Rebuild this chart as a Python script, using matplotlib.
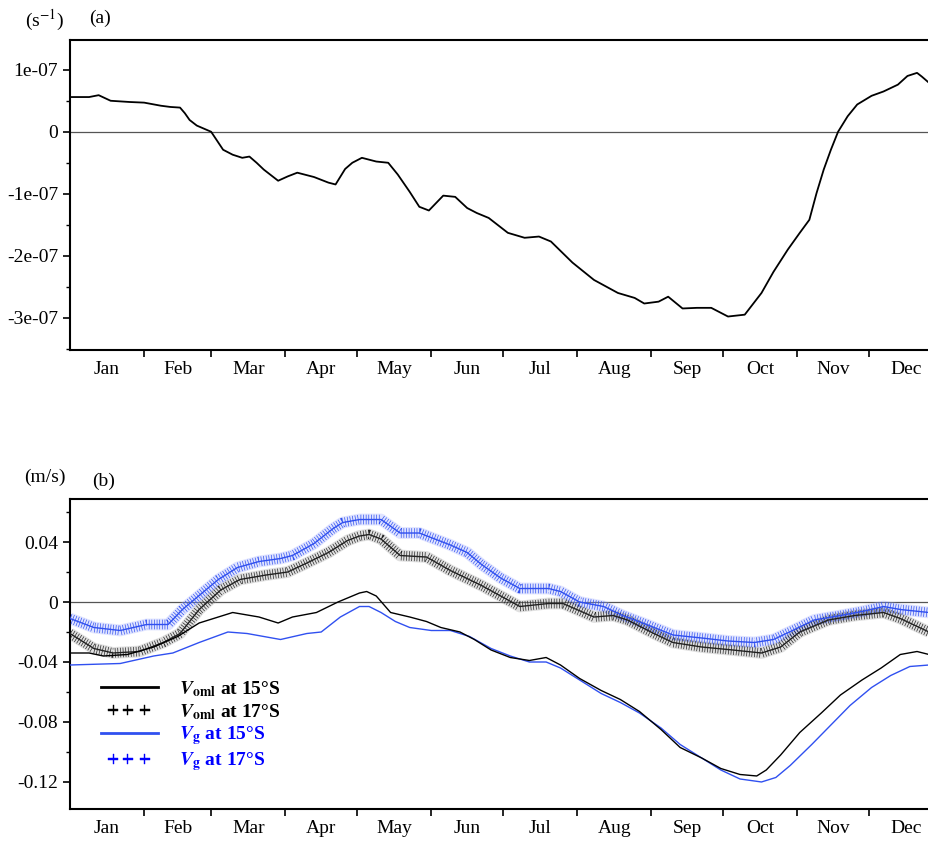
import numpy as np
import matplotlib
matplotlib.use('Agg')
import matplotlib.pyplot as plt
from matplotlib.lines import Line2D

plt.rcParams['font.family'] = ['Liberation Serif', 'DejaVu Serif']
plt.rcParams['mathtext.fontset'] = 'stix'

months = ['Jan', 'Feb', 'Mar', 'Apr', 'May', 'Jun',
          'Jul', 'Aug', 'Sep', 'Oct', 'Nov', 'Dec']
month_len = [31, 28, 31, 30, 31, 30, 31, 31, 30, 31, 30, 31]

# (a) day of year vs value, in units of 1e-7 s^-1
a_day = [0, 8, 12, 17, 25, 31, 38, 42, 46, 48, 50, 53, 59, 64, 68, 72, 75, 78,
         81, 87, 91, 95, 102, 108, 111, 115, 118, 122, 128, 133, 137, 142, 146,
         150, 156, 161, 166, 170, 175, 183, 190, 196, 201, 210, 219, 229, 236,
         240, 246, 250, 256, 262, 268, 275, 282, 285, 289, 294, 300, 305, 309,
         312, 315, 318, 321, 325, 329, 335, 340, 346, 350, 354, 356, 359]
a_val = [0.56, 0.56, 0.59, 0.50, 0.48, 0.47, 0.42, 0.40, 0.39, 0.30, 0.19, 0.10,
         0.00, -0.29, -0.37, -0.42, -0.40, -0.50, -0.61, -0.79, -0.72, -0.66,
         -0.73, -0.82, -0.85, -0.60, -0.50, -0.42, -0.48, -0.50, -0.69, -0.97,
         -1.21, -1.27, -1.03, -1.05, -1.23, -1.31, -1.39, -1.63, -1.71, -1.69,
         -1.77, -2.11, -2.39, -2.60, -2.68, -2.77, -2.74, -2.66, -2.85, -2.84,
         -2.84, -2.98, -2.95, -2.80, -2.60, -2.26, -1.90, -1.63, -1.42, -0.99,
         -0.61, -0.29, 0.00, 0.25, 0.44, 0.58, 0.65, 0.76, 0.90, 0.95, 0.89,
         0.79]

# (b) V_oml at 15S (black line)
voml15_day = [0, 8, 14, 24, 35, 45, 54, 68, 79, 87, 93, 103, 112, 121, 124, 128,
              134, 142, 149, 155, 163, 169, 176, 184, 192, 199, 205, 213, 222,
              230, 238, 247, 255, 264, 272, 280, 287, 291, 297, 305, 314, 322,
              331, 339, 347, 354, 359]
voml15_val = [-0.034, -0.034, -0.036, -0.035, -0.030, -0.023, -0.014, -0.007,
              -0.010, -0.014, -0.010, -0.007, 0.000, 0.006, 0.007, 0.004,
              -0.007, -0.010, -0.013, -0.017, -0.020, -0.025, -0.032, -0.037,
              -0.039, -0.037, -0.042, -0.051, -0.059, -0.065, -0.073, -0.085,
              -0.097, -0.104, -0.111, -0.115, -0.116, -0.112, -0.102, -0.087,
              -0.074, -0.062, -0.052, -0.044, -0.035, -0.033, -0.035]

# V_oml at 17S (black +++)
voml17_day = [0, 10, 18, 29, 39, 46, 54, 63, 71, 82, 91, 99, 108, 116, 121, 125,
              130, 138, 149, 159, 172, 180, 188, 200, 206, 219, 227, 233, 244,
              252, 264, 277, 289, 297, 305, 317, 328, 340, 347, 359]
voml17_val = [-0.021, -0.031, -0.034, -0.033, -0.027, -0.021, -0.005, 0.008,
              0.015, 0.018, 0.020, 0.026, 0.033, 0.041, 0.044, 0.045, 0.042,
              0.031, 0.030, 0.021, 0.011, 0.004, -0.003, -0.001, -0.001,
              -0.010, -0.009, -0.012, -0.021, -0.027, -0.030, -0.032, -0.034,
              -0.030, -0.020, -0.012, -0.009, -0.007, -0.011, -0.020]

# V_g at 15S (blue line)
vg15_day = [0, 21, 35, 43, 54, 66, 74, 88, 99, 105, 113, 121, 125, 130, 136, 142,
            151, 159, 167, 176, 184, 192, 199, 205, 213, 222, 230, 238, 247, 255,
            264, 272, 280, 289, 295, 301, 310, 318, 326, 335, 343, 351, 359]
vg15_val = [-0.042, -0.041, -0.036, -0.034, -0.027, -0.020, -0.021, -0.025,
            -0.021, -0.020, -0.010, -0.003, -0.003, -0.007, -0.013, -0.017,
            -0.019, -0.019, -0.023, -0.031, -0.036, -0.040, -0.040, -0.044,
            -0.052, -0.061, -0.067, -0.074, -0.084, -0.095, -0.104, -0.112,
            -0.118, -0.120, -0.117, -0.109, -0.095, -0.082, -0.069, -0.057,
            -0.049, -0.043, -0.042]

# V_g at 17S (blue +++)
vg17_day = [0, 10, 21, 32, 41, 47, 53, 62, 70, 79, 88, 93, 102, 110, 114, 121,
            130, 138, 146, 159, 166, 172, 180, 188, 200, 205, 213, 223, 231, 241,
            252, 264, 275, 286, 294, 302, 311, 322, 332, 340, 347, 353, 359]
vg17_val = [-0.011, -0.017, -0.019, -0.015, -0.015, -0.005, 0.003, 0.015, 0.023,
            0.027, 0.029, 0.031, 0.039, 0.049, 0.053, 0.055, 0.055, 0.046,
            0.046, 0.038, 0.033, 0.025, 0.016, 0.009, 0.009, 0.007, 0.000,
            -0.003, -0.009, -0.015, -0.022, -0.024, -0.026, -0.027, -0.025,
            -0.019, -0.012, -0.009, -0.006, -0.003, -0.005, -0.006, -0.007]

a_ticks = [1e-7, 0, -1e-7, -2e-7, -3e-7]
a_ticklabels = ['1e-07', '0', '-1e-07', '-2e-07', '-3e-07']
b_ticks = [0.04, 0, -0.04, -0.08, -0.12]
b_ticklabels = ['0.04', '0', '-0.04', '-0.08', '-0.12']

BLUE = '#3050f0'


def style_axis(ax, ticks, ticklabels, minor_step, ylim):
    starts = np.concatenate([[0], np.cumsum(month_len)[:-1]])
    mids = starts + np.array(month_len) / 2
    ax.set_xticks(starts[1:])
    ax.set_xticklabels([])
    ax.set_xticks(mids, minor=True)
    ax.set_xticklabels(months, minor=True)
    ax.tick_params(axis='x', which='major', direction='out', length=5, width=1.2)
    ax.tick_params(axis='x', which='minor', length=0, pad=8, labelsize=14)
    ax.set_yticks(ticks)
    ax.set_yticklabels(ticklabels)
    minor = np.arange(ticks[-1] - minor_step, ticks[0] + 2 * minor_step, minor_step)
    ax.set_yticks(minor, minor=True)
    ax.tick_params(axis='y', which='major', direction='out', length=5, width=1.2, labelsize=14)
    ax.tick_params(axis='y', which='minor', direction='out', length=3, width=1.0)
    ax.set_xlim(0, 359)
    ax.set_ylim(*ylim)
    ax.spines['right'].set_visible(False)
    for s in ['left', 'bottom', 'top']:
        ax.spines[s].set_linewidth(1.5)
    ax.axhline(0, color='#555555', lw=0.9, zorder=1)


def plus_band(ax, days, vals, color, halo):
    ax.plot(days, vals, color=halo, lw=8.5, alpha=0.3, solid_capstyle='butt', zorder=2)
    ax.plot(days, vals, color=color, lw=7, dashes=(0.07, 0.2), zorder=3)
    ax.plot(days, vals, color=color, lw=1.0, zorder=4)


fig = plt.figure(figsize=(9.29, 8.44), dpi=100)

ax1 = fig.add_axes([0.0753, 0.5853, 0.9247, 0.3673])
ax1.plot(a_day, np.array(a_val) * 1e-7, color='black', lw=1.3, zorder=3)
style_axis(ax1, a_ticks, a_ticklabels, 0.5e-7, (-3.52e-7, 1.48e-7))
fig.text(0.048, 0.976, '(s$^{-1}$)', ha='center', va='center', fontsize=14)
fig.text(0.108, 0.978, '(a)', ha='center', va='center', fontsize=14)

ax2 = fig.add_axes([0.0753, 0.0415, 0.9247, 0.3673])
plus_band(ax2, vg17_day, vg17_val, BLUE, '#9aa8ff')
plus_band(ax2, voml17_day, voml17_val, '#222222', '#999999')
ax2.plot(vg15_day, vg15_val, color=BLUE, lw=1.0, zorder=5)
ax2.plot(voml15_day, voml15_val, color='black', lw=1.0, zorder=5)
style_axis(ax2, b_ticks, b_ticklabels, 0.02, (-0.138, 0.0687))
fig.text(0.048, 0.434, '(m/s)', ha='center', va='center', fontsize=14)
fig.text(0.111, 0.430, '(b)', ha='center', va='center', fontsize=14)

handles = [
    Line2D([], [], color='black', lw=2),
    Line2D([], [], color='black', marker='$+++$', ls='none', ms=30, mew=0.3),
    Line2D([], [], color=BLUE, lw=2),
    Line2D([], [], color='blue', marker='$+++$', ls='none', ms=30, mew=0.3),
]
labels = [
    r'$\mathbfit{V}_{\mathbf{oml}}$ at 15°S',
    r'$\mathbfit{V}_{\mathbf{oml}}$ at 17°S',
    r'$\mathbfit{V}_{\mathbf{g}}$ at 15°S',
    r'$\mathbfit{V}_{\mathbf{g}}$ at 17°S',
]
leg = ax2.legend(handles, labels, loc='upper left', bbox_to_anchor=(0.016, 0.475),
                 frameon=False, numpoints=1, handlelength=2.9, handletextpad=1.1,
                 labelspacing=0.15, prop={'weight': 'bold', 'size': 14})
for t, c in zip(leg.get_texts(), ['black', 'black', 'blue', 'blue']):
    t.set_color(c)

fig.savefig('out.png', dpi=100)
